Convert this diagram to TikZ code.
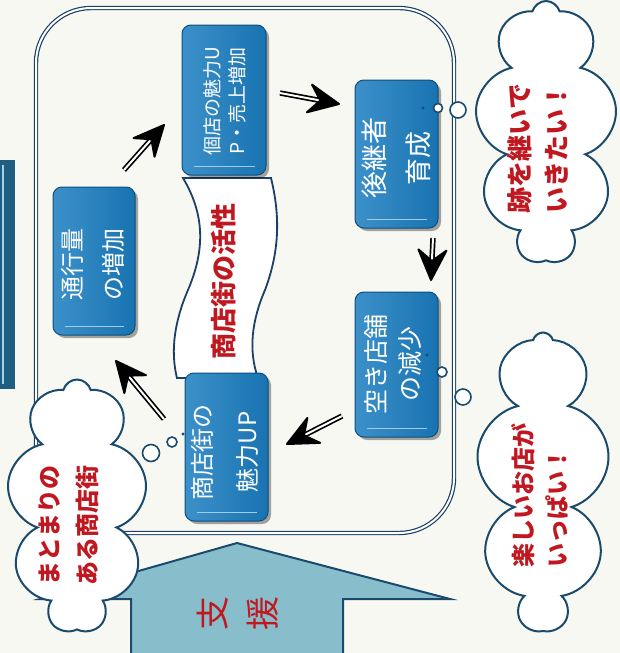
\documentclass[tikz,border=0pt]{standalone}
\usepackage{fontspec}
\setmainfont{Noto Sans CJK JP}
\usetikzlibrary{shapes.symbols,shadows,calc}
\definecolor{bg}{HTML}{F8F8F3}
\definecolor{navy}{HTML}{1B3F66}
\definecolor{boxblue}{HTML}{1A7DC0}
\definecolor{boxedge}{HTML}{0F4E7E}
\definecolor{redtxt}{HTML}{C01820}
\definecolor{cloudline}{HTML}{1A4A6C}
\definecolor{supfill}{HTML}{88BECB}
\definecolor{stripfill}{HTML}{1F5E80}
\definecolor{stripline}{HTML}{9FD3E8}
\begin{document}
\begin{tikzpicture}[x=1pt,y=-1pt,
  bluebox/.style={draw=boxedge, line width=1pt, rounded corners=9pt,
    left color=boxblue!85!white, right color=boxblue!92!black,
    drop shadow={shadow xshift=3pt, shadow yshift=-3pt, fill=black, opacity=0.35},
    inner sep=0pt},
  boxtxt/.style={text=white, rotate=90, align=center, inner sep=0pt},
  gloss/.style={white!60!boxblue, line width=1pt},
  dshaft/.style={draw=black, line width=1.7pt, double=white, double distance=2pt},
  headfill/.style={fill=black, draw=black, line width=2pt, line join=round},
  thought/.style={cloud, cloud puffs=9, cloud puff arc=150, cloud ignores aspect,
    draw=cloudline, line width=2pt, fill=white, inner sep=0pt},
  redtxt/.style={text=redtxt, rotate=90, font=\bfseries, inner sep=0pt},
  bubble/.style={draw=cloudline, line width=1.6pt, fill=white}
]
\useasboundingbox (0,0) rectangle (620,653);
\fill[bg] (0,0) rectangle (620,653);

% left strip
\fill[stripfill] (0,160) rectangle (15,389);
\draw[stripline, line width=1.2pt] (3,165) -- (3,384);

% main frame
\draw[navy, line width=1.2pt, double=white, double distance=2pt, rounded corners=55pt]
  (36,8) rectangle (454,533);

% support arrow
\draw[cloudline, line width=2pt, fill=supfill]
  (131,660) -- (131,599) -- (40,599) -- (237,543) -- (450,599) -- (343,599) -- (343,660);
\node[redtxt, font=\fontsize{34}{50}\selectfont, align=center] (sup) at (238,613) {支\\援};

% banner
\draw[navy, line width=1.8pt, fill=white]
  (183,178) -- (271,178) .. controls (280,215) and (280,250) .. (265,290)
  .. controls (252,320) and (248,350) .. (258,378) -- (177,378)
  .. controls (170,350) and (175,320) .. (188,290)
  .. controls (205,250) and (205,215) .. (183,178) -- cycle;
\node[redtxt, font=\bfseries\fontsize{26}{30}\selectfont] (ban) at (224,281) {商店街の活性};

% boxes
\node[bluebox, minimum width=82pt, minimum height=148pt] (b1) at (94,261) {};
\node[bluebox, minimum width=84pt, minimum height=150pt] (b2) at (224,100) {};
\node[bluebox, minimum width=83pt, minimum height=148pt] (b3) at (396.5,154) {};
\node[bluebox, minimum width=83pt, minimum height=145pt] (b4) at (396.5,364.5) {};
\node[bluebox, minimum width=83pt, minimum height=148pt] (b5) at (226.5,447) {};
\foreach \b in {b1,b2,b3,b4,b5}{
  \draw[gloss] ($(\b.south west)+(12,-9)$) -- ($(\b.south east)+(-12,-9)$);
}
\node[boxtxt, font=\fontsize{24}{41}\selectfont] at (93,264) {通行量\\の増加};
\node[boxtxt, font=\fontsize{19}{25}\selectfont] at (225,101) {個店の魅力U\\P・売上増加};
\node[boxtxt, font=\fontsize{27}{44}\selectfont] at (396,158) {後継者\\育成};
\node[boxtxt, font=\fontsize{25}{34}\selectfont] at (393,364) {空き店舗\\の減少};
\node[boxtxt, font=\fontsize{24}{45}\selectfont] at (225,452) {商店街の\\魅力UP};

% arrows
\coordinate (a1t) at (124,170); \coordinate (a1h) at (164,125);
\coordinate (a2t) at (280,93);  \coordinate (a2h) at (339,104);
\coordinate (a3t) at (433,238); \coordinate (a3h) at (431,280);
\coordinate (a4t) at (342,416); \coordinate (a4h) at (287,444);
\coordinate (a5t) at (164,419); \coordinate (a5h) at (116,361);
\foreach \a in {a1,a2,a3,a4,a5}{
  \draw[dshaft] (\a t) -- ($(\a h)!17pt!(\a t)$);
  \coordinate (B) at ($(\a h)!30pt!(\a t)$);
  \coordinate (I) at ($(\a h)!19pt!(\a t)$);
  \coordinate (W1) at ($(B)!14pt!90:(\a h)$);
  \coordinate (W2) at ($(B)!14pt!-90:(\a h)$);
  \filldraw[headfill] (\a h) -- (W1) -- (I) -- (W2) -- cycle;
}

% clouds
\node[thought, minimum width=142pt, minimum height=262pt] (cA) at (546,132) {};
\node[thought, minimum width=133pt, minimum height=297pt] (cB) at (543,481) {};
\node[thought, minimum width=140pt, minimum height=253pt] (cC) at (77,506) {};

\node[redtxt, align=left, font=\bfseries\fontsize{26}{37}\selectfont] (tA) at (538,148) {跡を継いで\\いきたい！};
\node[redtxt, align=left, font=\bfseries\fontsize{24}{34}\selectfont] (tB) at (540,495) {楽しいお店が\\いっぱい！};
\node[redtxt, align=left, font=\bfseries\fontsize{24}{38}\selectfont] (tC) at (69,525) {まとまりの\\ある商店街};

% bubbles
\fill[cloudline] (423,108) circle (1.6pt);
\draw[bubble] (438,108) circle (4.5pt);
\draw[bubble] (458,110) circle (8pt);
\fill[cloudline] (427,355) circle (1.6pt);
\draw[bubble] (442,372) circle (5pt);
\draw[bubble] (463,397) circle (8pt);
\fill[cloudline] (183,434) circle (1.6pt);
\draw[bubble] (172,442) circle (5pt);
\draw[bubble] (151,453) circle (8.5pt);
\end{tikzpicture}
\end{document}
